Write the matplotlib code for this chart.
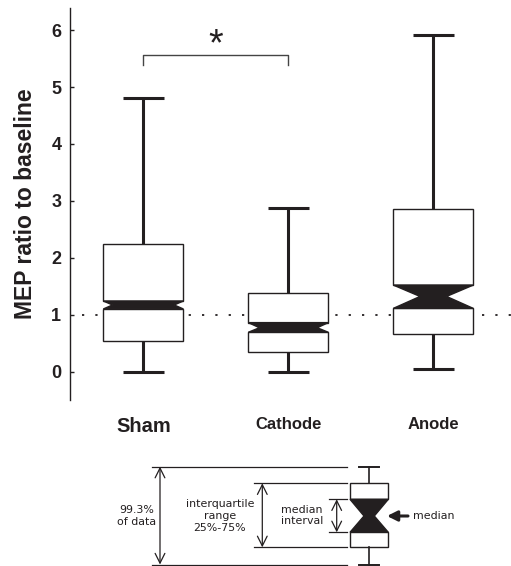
import numpy as np
import matplotlib.pyplot as plt
from matplotlib.patches import Rectangle, Polygon

plt.rcParams['font.family'] = ['Liberation Sans', 'DejaVu Sans']
plt.rcParams['lines.scale_dashes'] = False

# box statistics (MEP ratio to baseline)
groups = ["Sham", "Cathode", "Anode"]
whisker_lo = [0.00, 0.00, 0.05]
q1 = [0.545, 0.35, 0.66]
notch_lo = [1.10, 0.69, 1.11]
median = [1.17, 0.77, 1.32]
notch_hi = [1.24, 0.86, 1.52]
q3 = [2.24, 1.38, 2.86]
whisker_hi = [4.80, 2.87, 5.92]
label_sizes = [14.5, 12, 12]

ink = '#231f20'
hw = 0.276      # half box width
cap_hw = 0.143  # half cap width

fig = plt.figure(figsize=(5.11, 5.66), dpi=100)
ax = fig.add_axes([0.1364, 0.2933, 0.8636, 0.6926])

# baseline
ax.plot([0.577, 3.536], [1, 1], color=ink, lw=1.3, dashes=(1.6, 8.0), zorder=1)

for i, name in enumerate(groups):
    p = i + 1
    # whiskers and caps
    ax.plot([p, p], [q3[i], whisker_hi[i]], color=ink, lw=2.2, zorder=2, solid_capstyle='butt')
    ax.plot([p, p], [q1[i], whisker_lo[i]], color=ink, lw=2.2, zorder=2, solid_capstyle='butt')
    for w in (whisker_lo[i], whisker_hi[i]):
        ax.plot([p - cap_hw, p + cap_hw], [w, w], color=ink, lw=2.2, zorder=2, solid_capstyle='butt')
    # upper and lower parts of the box
    ax.add_patch(Rectangle((p - hw, notch_hi[i]), 2 * hw, q3[i] - notch_hi[i],
                           facecolor='white', edgecolor=ink, lw=1.0, zorder=3))
    ax.add_patch(Rectangle((p - hw, q1[i]), 2 * hw, notch_lo[i] - q1[i],
                           facecolor='white', edgecolor=ink, lw=1.0, zorder=3))
    # notch (median interval), filled black
    d = 0.45 * (notch_hi[i] - notch_lo[i])
    ax.add_patch(Polygon([(p - hw, notch_hi[i]), (p + hw, notch_hi[i]), (p + hw - d, median[i]),
                          (p + hw, notch_lo[i]), (p - hw, notch_lo[i]), (p - hw + d, median[i])],
                         closed=True, facecolor=ink, edgecolor=ink, lw=1.0, zorder=3))

# significance bracket
ax.plot([1, 1, 2, 2], [5.38, 5.56, 5.56, 5.38], color='#444444', lw=1.0)
ax.text(1.5, 5.74, '*', ha='center', va='center', fontsize=27, color=ink)

ax.set_xlim(0.492, 3.536)
ax.set_ylim(-0.5, 6.39)
ax.set_yticks(range(0, 7))
ax.tick_params(axis='y', direction='in', length=3, width=1, pad=6, labelsize=13, colors=ink)
for t in ax.get_yticklabels():
    t.set_fontweight('bold')
ax.set_xticks([1, 2, 3])
ax.set_xticklabels(groups, fontweight='bold')
for t, s in zip(ax.get_xticklabels(), label_sizes):
    t.set_fontsize(s)
    t.set_color(ink)
ax.tick_params(axis='x', length=0, pad=12)
for s in ['top', 'right', 'bottom']:
    ax.spines[s].set_visible(False)
ax.spines['left'].set_linewidth(1.0)
ax.spines['left'].set_color(ink)
ax.set_ylabel('MEP ratio to baseline', fontsize=16.5, fontweight='bold', color=ink)
ax.yaxis.set_label_coords(-0.074, 0.5)

# key diagram below the chart, drawn in pixel coordinates
k = fig.add_axes([0, 0, 1, 1], zorder=-1)
k.set_xlim(0, 511)
k.set_ylim(566, 0)
k.axis('off')

y_top, y_q3, y_nh, y_med, y_nl, y_q1, y_bot = 466.7, 483.3, 499.3, 516, 532.3, 547.3, 564.5
bx0, bx1, bc = 350, 388.3, 369.2
lw_k = 0.9
k.plot([151.7, 346.7], [y_top, y_top], color=ink, lw=lw_k)
k.plot([151.7, 346.7], [y_bot, y_bot], color=ink, lw=lw_k)
k.plot([254, 346.7], [y_q3, y_q3], color=ink, lw=lw_k)
k.plot([254, 346.7], [y_q1, y_q1], color=ink, lw=lw_k)
k.plot([329.3, 346.7], [y_nh, y_nh], color=ink, lw=lw_k)
k.plot([329.3, 346.7], [y_nl, y_nl], color=ink, lw=lw_k)

arrow = dict(arrowstyle='<->,head_length=0.7,head_width=0.35', color=ink, lw=lw_k,
             shrinkA=0, shrinkB=0)
k.annotate('', xy=(160, y_top), xytext=(160, y_bot), arrowprops=arrow)
k.annotate('', xy=(262.3, y_q3), xytext=(262.3, y_q1), arrowprops=arrow)
k.annotate('', xy=(336.7, y_nh), xytext=(336.7, y_nl), arrowprops=arrow)

# mini box
k.plot([bc, bc], [y_top, y_q3], color=ink, lw=1.2)
k.plot([bc, bc], [y_q1, y_bot], color=ink, lw=1.2)
k.plot([359, 378.7], [y_top, y_top], color=ink, lw=1.4)
k.plot([359, 378.7], [y_bot, y_bot], color=ink, lw=1.4)
k.add_patch(Rectangle((bx0, y_q3), bx1 - bx0, y_nh - y_q3, facecolor='white', edgecolor=ink, lw=1.0))
k.add_patch(Rectangle((bx0, y_nl), bx1 - bx0, y_q1 - y_nl, facecolor='white', edgecolor=ink, lw=1.0))
k.add_patch(Polygon([(bx0, y_nh), (bx1, y_nh), (bx1 - 14, y_med), (bx1, y_nl), (bx0, y_nl), (bx0 + 14, y_med)],
                    closed=True, facecolor=ink, edgecolor=ink, lw=1.0))
k.annotate('', xy=(387, y_med), xytext=(408, y_med),
           arrowprops=dict(arrowstyle='-|>,head_length=0.6,head_width=0.3', color=ink, lw=2.2,
                           shrinkA=0, shrinkB=0))

kf = dict(family='DejaVu Sans', fontsize=7.9, color=ink, ha='center', va='center', linespacing=1.2)
k.text(136.5, 516, '99.3%\nof data', **kf)
k.text(220, 516, 'interquartile\nrange\n25%-75%', **kf)
k.text(302, 515.5, 'median\ninterval', **kf)
k.text(413, 516, 'median', **dict(kf, ha='left'))

fig.savefig('out.png', dpi=100)
